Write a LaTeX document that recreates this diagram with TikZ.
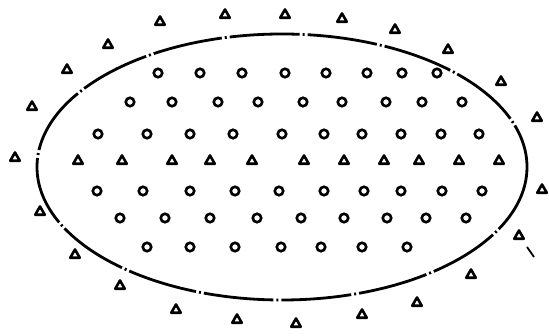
\documentclass[tikz,border=0pt]{standalone}
\usetikzlibrary{shapes.geometric}
\begin{document}
\begin{tikzpicture}[x=1pt,y=-1pt,
  circ/.style={circle,draw=black,line width=2.6pt,minimum size=8.5pt,inner sep=0pt},
  tri/.style={regular polygon,regular polygon sides=3,draw=black,line width=2.6pt,line join=round,minimum size=11pt,inner sep=0pt},
  boundary/.style={draw=black,line width=2.8pt,dash pattern=on 70pt off 3pt on 2pt off 3pt}]
\fill[white] (0,0) rectangle (549,336);
\useasboundingbox (0,0) rectangle (549,336);
% boundary ellipse
\draw[boundary] (282,167) ellipse [x radius=245, y radius=133];
% circles inside
\foreach \x [count=\i] in {158,200,242,285,326,367,402,437}
  \node[circ] (ra\i) at (\x,73) {};
\foreach \x [count=\i] in {130,172,218,258,303,342,386,422,462}
  \node[circ] (rb\i) at (\x,102) {};
\foreach \x [count=\i] in {98,147,190,233,282,324,362,401,441,479}
  \node[circ] (rc\i) at (\x,134) {};
\foreach \x [count=\i] in {78,122,172,210,252,304,344,384,419,459,499}
  \node[tri] (rd\i) at (\x,161) {};
\foreach \x [count=\i] in {97,143,190,235,279,324,364,401,442,482}
  \node[circ] (re\i) at (\x,191) {};
\foreach \x [count=\i] in {120,165,210,257,301,344,387,426,466}
  \node[circ] (rf\i) at (\x,218) {};
\foreach \x [count=\i] in {147,190,235,281,321,362,407}
  \node[circ] (rg\i) at (\x,247) {};
% triangles outside
\foreach \p [count=\i] in {(15,158),(32,107),(67,70),(108,45),(160,22),(225,15),(285,15),(342,19),(395,30),(448,50),(501,82),(537,118),(542,190),(519,236),(471,275),(417,303),(362,315),(296,324),(237,320),(176,310),(120,286),(75,255),(40,212)}
  \node[tri] (o\i) at \p {};
\coordinate (ta) at (527,247);
\coordinate (tb) at (534,257);
\draw[line width=1.8pt] (ta) -- (tb);
\end{tikzpicture}
\end{document}
